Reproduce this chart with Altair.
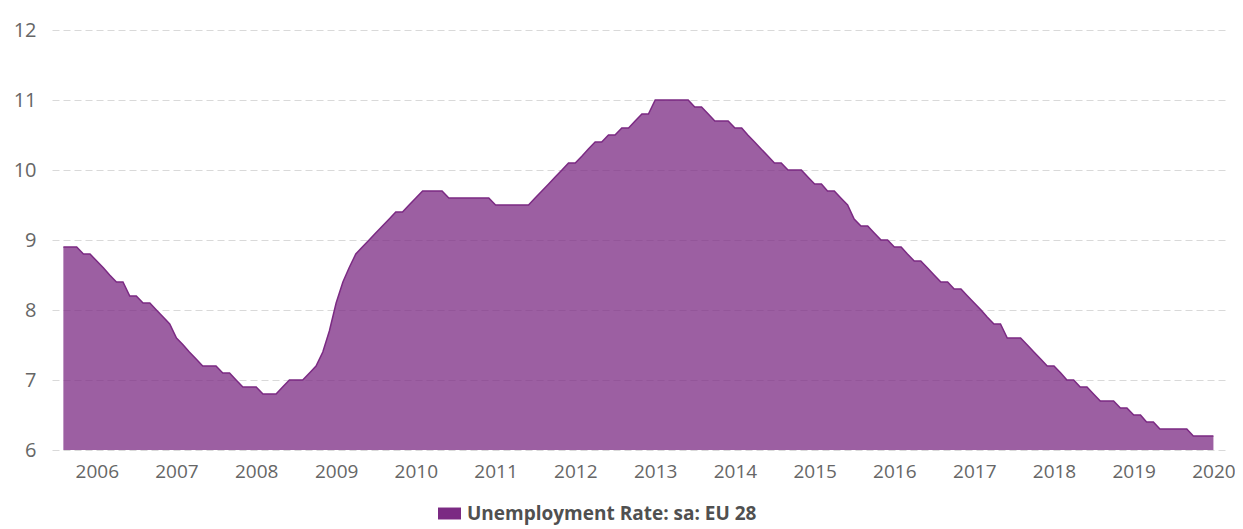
import altair as alt
import pandas as pd

# Monthly values, Aug 2005 .. Jan 2020 (EU 28 unemployment rate, sa)
start_month = "2005-08-01"
values = [
    8.9, 8.9, 8.9, 8.8, 8.8, 8.7, 8.6, 8.5, 8.4, 8.4,   # 2005-08 .. 2006-05
    8.2, 8.2, 8.1, 8.1, 8.0, 7.9, 7.8, 7.6, 7.5, 7.4,   # 2006-06 .. 2007-03
    7.3, 7.2, 7.2, 7.2, 7.1, 7.1, 7.0, 6.9, 6.9, 6.9,   # 2007-04 .. 2008-01
    6.8, 6.8, 6.8, 6.9, 7.0, 7.0, 7.0, 7.1, 7.2, 7.4,   # 2008-02 .. 2008-11
    7.7, 8.1, 8.4, 8.6, 8.8, 8.9, 9.0, 9.1, 9.2, 9.3,   # 2008-12 .. 2009-09
    9.4, 9.4, 9.5, 9.6, 9.7, 9.7, 9.7, 9.7, 9.6, 9.6,   # 2009-10 .. 2010-07
    9.6, 9.6, 9.6, 9.6, 9.6, 9.5, 9.5, 9.5, 9.5, 9.5,   # 2010-08 .. 2011-05
    9.5, 9.6, 9.7, 9.8, 9.9, 10.0, 10.1, 10.1, 10.2, 10.3,  # 2011-06 .. 2012-03
    10.4, 10.4, 10.5, 10.5, 10.6, 10.6, 10.7, 10.8, 10.8, 11.0,  # 2012-04 .. 2013-01
    11.0, 11.0, 11.0, 11.0, 11.0, 10.9, 10.9, 10.8, 10.7, 10.7,  # 2013-02 .. 2013-11
    10.7, 10.6, 10.6, 10.5, 10.4, 10.3, 10.2, 10.1, 10.1, 10.0,  # 2013-12 .. 2014-09
    10.0, 10.0, 9.9, 9.8, 9.8, 9.7, 9.7, 9.6, 9.5, 9.3,   # 2014-10 .. 2015-07
    9.2, 9.2, 9.1, 9.0, 9.0, 8.9, 8.9, 8.8, 8.7, 8.7,   # 2015-08 .. 2016-05
    8.6, 8.5, 8.4, 8.4, 8.3, 8.3, 8.2, 8.1, 8.0, 7.9,   # 2016-06 .. 2017-03
    7.8, 7.8, 7.6, 7.6, 7.6, 7.5, 7.4, 7.3, 7.2, 7.2,   # 2017-04 .. 2018-01
    7.1, 7.0, 7.0, 6.9, 6.9, 6.8, 6.7, 6.7, 6.7, 6.6,   # 2018-02 .. 2018-11
    6.6, 6.5, 6.5, 6.4, 6.4, 6.3, 6.3, 6.3, 6.3, 6.3,   # 2018-12 .. 2019-09
    6.2, 6.2, 6.2, 6.2,                                 # 2019-10 .. 2020-01
]
series_name = "Unemployment Rate: sa: EU 28"
year_ticks = list(range(2006, 2021))
y_ticks = [6, 7, 8, 9, 10, 11, 12]

dates = pd.date_range(start_month, periods=len(values), freq="MS").strftime("%Y-%m-%d")
df = pd.DataFrame({"date": dates, "value": values, "series": series_name})

purple = "#7b2a83"
font = "Open Sans"

chart = (
    alt.Chart(df)
    .mark_area(
        fillOpacity=0.75,
        interpolate="linear",
        line={"strokeWidth": 1.5},
    )
    .encode(
        x=alt.X(
            "date:T",
            title=None,
            scale=alt.Scale(
                type="utc",
                domain=[
                    alt.DateTime(year=2005, month=6, date=10, utc=True),
                    alt.DateTime(year=2020, month=2, date=23, utc=True),
                ],
            ),
            axis=alt.Axis(
                values=[alt.DateTime(year=y, month=1, date=1, utc=True) for y in year_ticks],
                format="%Y",
                grid=False,
                ticks=False,
                domain=False,
                labelPadding=12,
                labelFont=font,
                labelFontSize=19,
                labelColor="#666666",
                labelFlush=False,
                labelOverlap=False,
            ),
        ),
        y=alt.Y(
            "value:Q",
            title=None,
            scale=alt.Scale(domain=[6, 12], nice=False, zero=False),
            axis=alt.Axis(
                values=y_ticks,
                grid=True,
                gridColor="#d9d9d9",
                gridDash=[7, 4],
                gridWidth=1,
                ticks=False,
                domain=False,
                labelPadding=16,
                labelFont=font,
                labelFontSize=20,
                labelColor="#666666",
            ),
        ),
        y2=alt.datum(6),
        color=alt.Color(
            "series:N",
            scale=alt.Scale(range=[purple]),
            legend=alt.Legend(
                title=None,
                orient="none",
                legendX=386,
                legendY=472,
                symbolType="M-1,-0.52H1V0.52H-1Z",
                symbolSize=529,
                symbolOpacity=1,
                symbolStrokeWidth=0,
                symbolFillColor=purple,
                labelFont=font,
                labelFontSize=19,
                labelFontWeight="bold",
                labelColor="#505050",
                labelOffset=6,
                labelLimit=600,
            ),
        ),
    )
    .properties(
        width=1173,
        height=420,
        background="white",
        autosize=alt.AutoSizeParams(type="none"),
        padding={"left": 44, "top": 22, "right": 10, "bottom": 78},
    )
    .configure_view(strokeWidth=0, stroke="transparent")
)

chart.save("out.html", embed_options={"renderer": "svg", "actions": False})
